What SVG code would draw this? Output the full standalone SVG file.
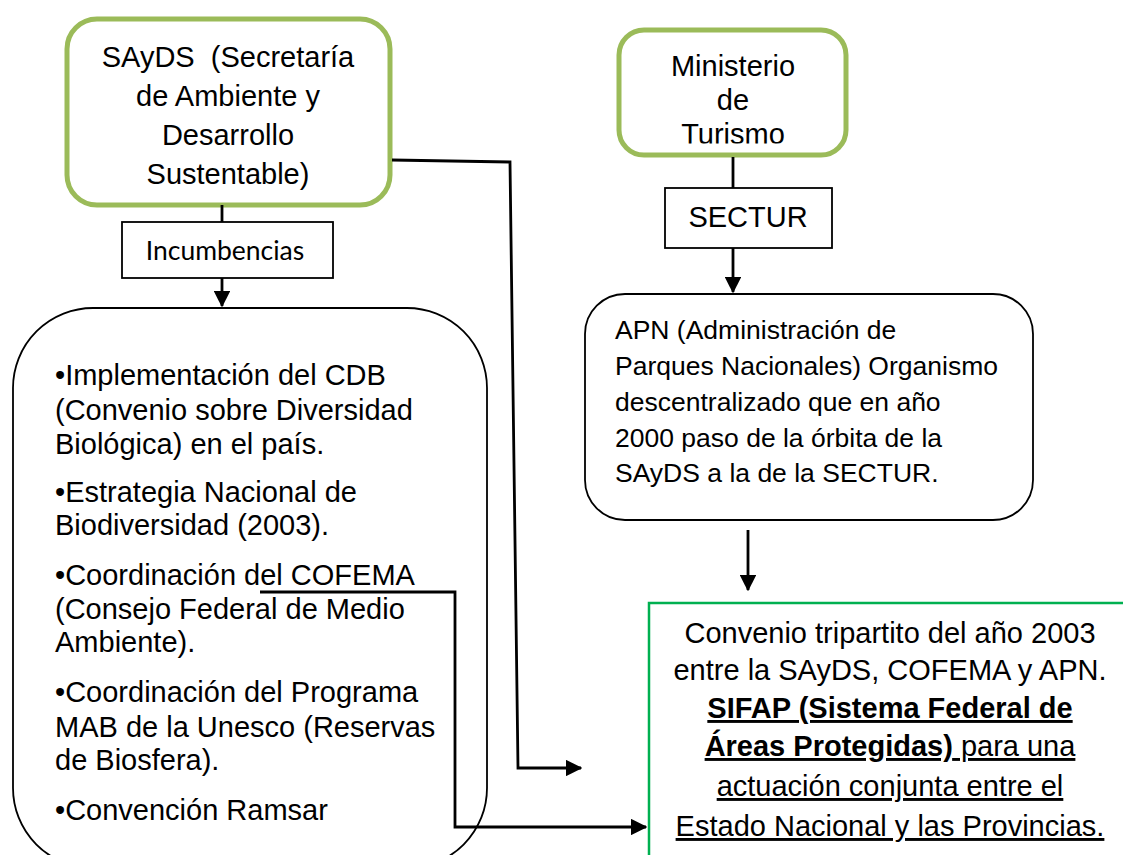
<svg xmlns="http://www.w3.org/2000/svg" width="1123" height="855" viewBox="0 0 1123 855">
<style>
.t{font-family:"Liberation Sans",Arial,sans-serif;font-size:29px;fill:#000}
.s{font-size:26.5px}
.c{text-anchor:middle}
.gb{fill:#fff;stroke:#9BBB59;stroke-width:5}
.bb{fill:#fff;stroke:#000;stroke-width:1.8}
.ln{fill:none;stroke:#000;stroke-width:2.8}
.u{text-decoration:underline}
</style>
<defs>
<marker id="ah" markerWidth="6" markerHeight="6" refX="5.5" refY="3" orient="auto" markerUnits="strokeWidth">
<path d="M0,0 L6,3 L0,6 Z" fill="#000"/>
</marker>
<clipPath id="mclip"><rect x="619" y="30" width="227" height="113.5"/></clipPath>
</defs>
<rect width="1123" height="855" fill="#fff"/>
<g id="sayds">
<rect class="gb" x="67" y="19" width="323" height="186" rx="30"/>
<text class="t c" x="228" y="67" xml:space="preserve" style="white-space:pre">SAyDS  (Secretaría</text>
<text class="t c" x="228" y="106">de Ambiente y</text>
<text class="t c" x="228" y="145">Desarrollo</text>
<text class="t c" x="228" y="184">Sustentable)</text>
</g>
<g id="ministerio">
<rect class="gb" x="619" y="30" width="227" height="125" rx="25"/>
<g clip-path="url(#mclip)">
<text class="t c" x="733" y="76">Ministerio</text>
<text class="t c" x="733" y="110">de</text>
<text class="t c" x="733" y="144">Turismo</text>
</g>
</g>
<g id="incumbencias">
<rect class="bb" x="122" y="222" width="211" height="56"/>
<text x="225" y="260" text-anchor="middle" style="font-family:Lato,'Open Sans',sans-serif;font-size:26.5px">Incumbencias</text>
</g>
<g id="sectur">
<rect class="bb" x="665" y="188" width="167" height="60"/>
<text class="t c" x="748" y="227">SECTUR</text>
</g>
<g id="lista">
<rect class="bb" x="13" y="308" width="474" height="560" rx="80"/>
<text class="t" x="55" y="385">•Implementación del CDB</text>
<text class="t" x="55" y="420">(Convenio sobre Diversidad</text>
<text class="t" x="55" y="454">Biológica) en el país.</text>
<text class="t" x="55" y="502">•Estrategia Nacional de</text>
<text class="t" x="55" y="535">Biodiversidad (2003).</text>
<text class="t" x="55" y="585">•Coordinación del COFEMA</text>
<text class="t" x="55" y="619">(Consejo Federal de Medio</text>
<text class="t" x="55" y="652">Ambiente).</text>
<text class="t" x="55" y="702">•Coordinación del Programa</text>
<text class="t" x="55" y="737">MAB de la Unesco (Reservas</text>
<text class="t" x="55" y="770">de Biosfera).</text>
<text class="t" x="55" y="820">•Convención Ramsar</text>
</g>
<g id="apn">
<rect class="bb" x="585" y="294" width="448" height="226" rx="40"/>
<text class="t s" x="615" y="339">APN (Administración de</text>
<text class="t s" x="615" y="375">Parques Nacionales) Organismo</text>
<text class="t s" x="615" y="411">descentralizado que en año</text>
<text class="t s" x="615" y="447">2000 paso de la órbita de la</text>
<text class="t s" x="615" y="482">SAyDS a la de la SECTUR.</text>
</g>
<g id="convenio">
<rect x="649" y="603" width="500" height="300" fill="#fff" stroke="#00B050" stroke-width="2.5"/>
<text class="t c" x="890" y="643">Convenio tripartito del año 2003</text>
<text class="t c" x="890" y="680">entre la SAyDS, COFEMA y APN.</text>
<text class="t c u" x="890" y="718" font-weight="bold">SIFAP (Sistema Federal de</text>
<text class="t c u" x="890" y="756"><tspan font-weight="bold">Áreas Protegidas)</tspan> para una</text>
<text class="t c u" x="890" y="796">actuación conjunta entre el</text>
<text class="t c u" x="890" y="836">Estado Nacional y las Provincias.</text>
</g>
<g id="connectors">
<line class="ln" x1="222" y1="205" x2="222" y2="222"/>
<line class="ln" x1="222" y1="278" x2="222" y2="306" marker-end="url(#ah)"/>
<line class="ln" x1="733" y1="157" x2="733" y2="188"/>
<line class="ln" x1="733" y1="248" x2="733" y2="292" marker-end="url(#ah)"/>
<line class="ln" x1="748" y1="530" x2="748" y2="590" marker-end="url(#ah)"/>
<polyline class="ln" points="392,160 510,162 518,768 581,768" marker-end="url(#ah)"/>
<polyline class="ln" points="260,592 455,592 455,827 646,827" marker-end="url(#ah)"/>
</g>
</svg>
